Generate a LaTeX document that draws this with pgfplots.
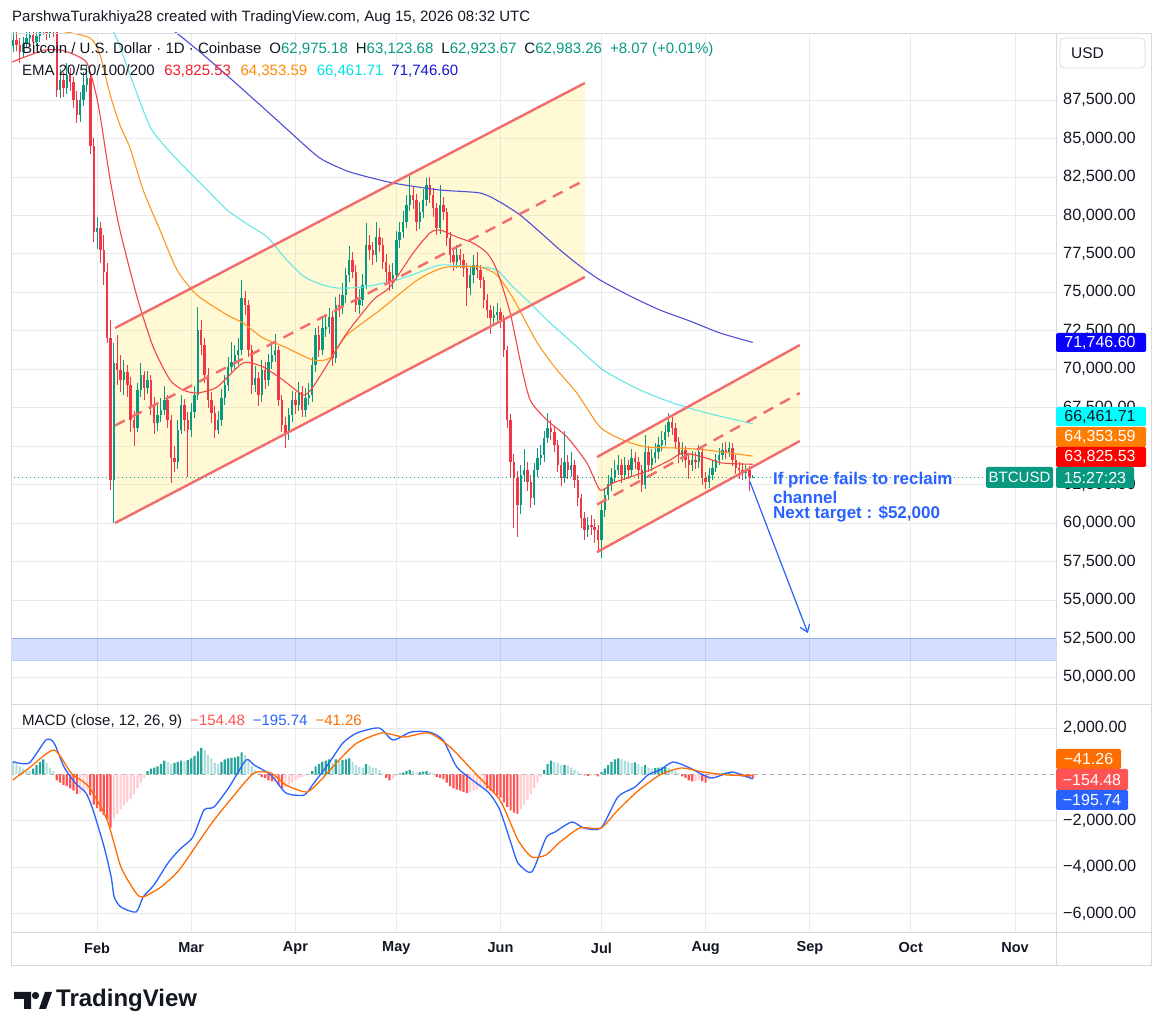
\documentclass[border=0pt]{standalone}
\usepackage{pgfplots}
\pgfplotsset{compat=1.18}
\usepackage{pgfplotstable}
\usepackage{fontspec}
\setmainfont{Liberation Sans}
\usetikzlibrary{arrows.meta}
\definecolor{upc}{RGB}{8,153,129}
\definecolor{dnc}{RGB}{242,54,69}
\definecolor{txt}{RGB}{19,23,34}
\definecolor{gridc}{RGB}{232,234,238}
\definecolor{framec}{RGB}{214,217,224}
\definecolor{emaA}{RGB}{242,70,70}
\definecolor{emaB}{RGB}{255,150,30}
\definecolor{emaC}{RGB}{100,232,228}
\definecolor{emaD}{RGB}{80,80,215}
\definecolor{chl}{RGB}{242,108,108}
\definecolor{chf}{RGB}{255,232,70}
\definecolor{tvblue}{RGB}{41,98,255}
\definecolor{tvorange}{RGB}{255,109,0}
\definecolor{hG}{RGB}{38,166,154}
\definecolor{hL}{RGB}{178,223,219}
\definecolor{hR}{RGB}{255,82,82}
\definecolor{hP}{RGB}{255,205,210}
\definecolor{bxblue}{RGB}{10,0,255}
\definecolor{bxcyan}{RGB}{0,255,255}
\definecolor{bxorange}{RGB}{255,125,0}
\definecolor{bxred}{RGB}{255,0,0}
\definecolor{lgred}{RGB}{240,30,40}
\definecolor{lgorange}{RGB}{255,140,0}
\definecolor{lgcyan}{RGB}{0,225,230}
\definecolor{lgblue}{RGB}{25,20,210}
\newcommand\fs[1]{\fontsize{#1}{#1}\selectfont}
\pgfplotsset{candle/.style={only marks, mark=*, mark size=0pt, mark options={draw=none, fill=none}, forget plot}}
% daily candles (day 0 = 1 Feb 2026): rising days
\pgfplotstableread{
d o h l c
-25 91000 92300 90600 91400
-22 90620 91600 90300 91140
-21 91140 92100 90900 91530
-20 91530 92600 91200 91725
-18 91270 92300 91000 91660
-17 91660 92700 91300 92050
-16 92050 92900 91700 92180
-14 91855 93000 91500 92310
-11 88150 89500 87600 88800
-9 88280 89900 87900 89125
-5 86525 88000 86100 87500
-4 87500 89300 87100 88475
-3 88475 89800 88000 88930
0 78920 79900 77800 79180
5 62800 71700 60000 70405
8 69300 70600 68300 69820
12 66180 69100 65900 68650
13 68650 70400 68200 69625
15 68780 69900 68400 69300
18 66505 67700 66000 67025
19 67025 68100 66600 67350
20 67350 68900 67000 68000
24 63970 66700 63500 66050
25 66050 68300 65800 67675
28 66050 67800 65600 67220
29 67220 68900 66800 68325
30 68325 74050 68000 72550
36 66050 67300 65800 66700
37 66700 68700 66300 68130
38 68130 69600 67700 68975
39 68975 70800 68600 70145
40 70145 71800 69800 70470
41 70470 71600 70000 70925
42 70925 72000 70300 71250
43 71250 75800 70900 74630
47 68975 70200 68500 69430
49 68325 70600 67900 69950
51 69300 71000 68900 70470
52 70470 71800 70000 70925
53 70925 72300 70500 71250
57 65855 67500 65400 67025
58 67025 68600 66600 68000
60 67675 69200 67300 68520
62 67350 68800 66900 68130
63 68130 69100 67700 68325
64 68325 70800 67900 70275
65 70275 72700 69800 72225
67 71250 73300 70900 72680
68 72680 73400 72100 72745
69 72745 74000 72300 73395
71 70730 74700 70400 74175
73 74045 75600 73600 74825
74 74825 76600 74300 76125
75 76125 78000 75700 77100
78 74175 75200 73600 74500
79 74500 76200 74100 75475
80 75475 79500 75200 78075
83 77425 79600 77000 78595
88 75670 76900 75200 76125
89 76125 79000 75800 78400
90 78400 79600 77900 78920
91 78920 80300 78500 79570
92 79570 81300 79200 80675
93 80675 82750 80300 81325
96 79570 80900 79100 80220
97 80220 81700 79800 81000
98 81000 82400 80600 81975
102 79180 82000 78800 80675
107 76970 78100 76600 77425
111 75280 76700 74800 76125
112 76125 77400 75600 76775
118 73330 74100 72900 73525
119 73525 74300 73000 73720
126 61175 63800 60600 63125
127 63125 64800 62700 63450
130 61630 63900 61200 63450
131 63450 64900 63000 64230
132 64230 65100 63800 64425
133 64425 66000 64000 65530
134 65530 67150 65200 66180
139 62930 66000 62600 63970
141 63450 64600 63000 63775
146 59550 60400 59100 59875
150 58900 61300 57730 60850
151 60850 62300 60400 61825
152 61825 63100 61500 62540
153 62540 63600 62100 62930
154 62930 64100 62600 63450
155 63450 64400 63100 63775
157 63125 64300 62800 63775
159 63450 64800 63000 64230
163 62475 65700 62200 64620
165 63775 64800 63400 64230
166 64230 65200 63900 64620
167 64620 65600 64200 65075
168 65075 66000 64700 65400
169 65400 66400 65000 65920
170 65920 67150 65600 66570
174 64425 65300 64000 64750
177 63775 64700 63400 64100
179 63970 65100 63600 64620
182 62670 63600 62300 63125
183 63125 64100 62800 63580
184 63580 64500 63300 64100
185 64100 64900 63800 64425
186 64425 65200 64100 64750
188 64620 65300 64300 64880
193 63255 63800 62900 63450
195 62975 63124 62924 62983
}\upcandles
% falling days
\pgfplotstableread{
d o h l c
-24 91400 91900 90700 91075
-23 91075 91500 89900 90620
-19 91725 92000 90800 91270
-15 92180 92600 91400 91855
-13 92310 92800 91600 92050
-12 92050 92500 87700 88150
-10 88800 89300 87700 88280
-8 89125 89600 88100 88670
-7 88670 89000 87000 87500
-6 87500 88100 86000 86525
-2 88930 89200 84000 84510
-1 84510 85000 78300 78920
1 79180 79600 76900 77750
2 77750 78700 75500 76320
3 76320 76900 71700 72030
4 72030 73200 62150 62800
6 70405 72200 69000 69950
7 69950 70900 68500 69300
9 69820 70300 68200 68975
10 68975 69500 65900 66700
11 66700 67300 65000 66180
14 69625 69900 68000 68780
16 69300 69600 67000 67675
17 67675 68200 65800 66505
21 68000 68300 66200 66700
22 66700 67000 62600 64230
23 64230 65000 63300 63970
26 67675 68100 66000 66700
27 66700 67200 63000 66050
31 72550 73200 70900 71575
32 71575 72000 69100 69625
33 69625 70100 67500 68000
34 68000 68500 66500 67155
35 67155 67600 65500 66050
44 74630 75100 73500 74175
45 74175 74500 70800 71250
46 71250 71600 68400 68975
48 69430 69800 67600 68325
50 69950 70500 68700 69300
54 71250 71500 67600 68000
55 68000 68300 65900 66375
56 66375 66900 64900 65855
59 68000 68500 67100 67675
61 68520 68900 66900 67350
66 72225 72800 70800 71250
70 73395 73800 70200 70730
72 74175 74900 73400 74045
76 77100 77600 75900 76320
77 76320 76800 73700 74175
81 78075 78700 77100 77750
82 77750 78300 76800 77425
84 78595 79200 77600 78075
85 78075 78500 76500 76970
86 76970 77500 75600 76320
87 76320 76800 75100 75670
94 81325 81900 80400 81000
95 81000 81400 79000 79570
99 81975 82500 80800 81325
100 81325 81800 79900 80480
101 80480 80800 78700 79180
103 80675 81200 79700 80220
104 80220 80500 78000 78530
105 78530 78900 76900 77425
106 77425 77900 76400 76970
108 77425 77800 76600 77100
109 77100 77500 76000 76580
110 76580 76900 74100 75280
113 76775 77600 75900 76450
114 76450 76800 75300 75800
115 75800 76000 74000 74500
116 74500 74900 73300 73850
117 73850 74200 72300 73330
120 73720 74000 72700 73200
121 73200 73500 70800 71250
122 71250 71500 66200 66700
123 66700 67100 63000 63970
124 63970 64500 59700 62930
125 62930 63400 59100 61175
128 63450 64000 62100 62670
129 62670 63100 61000 61630
135 66180 66700 65400 65920
136 65920 66300 64600 65075
137 65075 65400 63300 63775
138 63775 64200 62400 62930
140 63970 64400 62900 63450
142 63775 64100 62300 62800
143 62800 63100 61100 61630
144 61630 61900 59700 60330
145 60330 60700 58900 59550
147 59875 60500 59200 59745
148 59745 60300 58700 59550
149 59550 59900 58050 58900
156 63775 64200 62600 63125
158 63775 64100 62900 63450
160 64230 64600 63500 63970
161 63970 64300 62900 63450
162 63450 63800 62000 62475
164 64620 65000 63300 63775
171 66570 66900 65700 66180
172 66180 66500 64800 65270
173 65270 65600 63900 64425
175 64750 65000 63600 64100
176 64100 64500 62900 63775
178 64100 64600 63500 63970
180 64620 64900 62500 62930
181 62930 63300 62200 62670
187 64750 65300 64200 64620
189 64880 65200 63700 64100
190 64100 64400 63200 63580
191 63580 64000 62900 63450
192 63450 63900 62800 63255
194 63450 63700 62100 62975
}\dncandles
\begin{document}
\begin{tikzpicture}
\fill[white] (0pt,0pt) rectangle (1162pt,1036pt);
\path[use as bounding box] (0pt,0pt) rectangle (1162pt,1036pt);
% ---------------- price pane ----------------
\begin{axis}[
  at={(12pt,331pt)}, anchor=south west, scale only axis,
  width=1044pt, height=672pt,
  xmin=-25.3, xmax=285.2, ymin=48180, ymax=91854,
  axis line style={draw=none},
  xtick={0,28,59,89,120,150,181,212,242,273}, xticklabels={},
  ytick={50000,52500,55000,57500,60000,62500,65000,67500,70000,72500,75000,77500,80000,82500,85000,87500},
  scaled y ticks=false, yticklabel pos=right,
  yticklabel={\pgfmathprintnumber[fixed,fixed zerofill,precision=2,1000 sep={,},assume math mode=true]{\tick}},
  yticklabel style={font=\fs{16.3}, text=txt, anchor=west, inner sep=0pt, xshift=7pt},
  major tick length=0pt,
  grid=major, major grid style={line width=0.8pt, draw=gridc},
  clip=true,
]
% target zone
\addplot[fill=tvblue, fill opacity=0.2, draw=tvblue, draw opacity=0.3, line width=0.8pt] coordinates {(-26,51100) (286,51100) (286,52530) (-26,52530)} --cycle;
% channels (fill)
\addplot[fill=chf, fill opacity=0.22, draw=none] coordinates {(5.35,60005) (145.1,75995) (145.1,88605) (5.35,72680)} --cycle;
\addplot[fill=chf, fill opacity=0.22, draw=none] coordinates {(148.7,58120) (209.0,65335) (209.0,71575) (148.7,64295)} --cycle;
% candles: wicks
\addplot[candle, error bars/.cd, y dir=both, y explicit, error mark=none, error bar style={line width=1pt, color=upc}]
  table[x=d, y expr={(\thisrow{h}+\thisrow{l})/2}, y error expr={(\thisrow{h}-\thisrow{l})/2}] {\upcandles};
\addplot[candle, error bars/.cd, y dir=both, y explicit, error mark=none, error bar style={line width=1pt, color=dnc}]
  table[x=d, y expr={(\thisrow{h}+\thisrow{l})/2}, y error expr={(\thisrow{h}-\thisrow{l})/2}] {\dncandles};
% candles: bodies
\addplot[candle, error bars/.cd, y dir=both, y explicit, error mark=none, error bar style={line width=2.4pt, color=upc}]
  table[x=d, y expr={(\thisrow{o}+\thisrow{c})/2}, y error expr={max(abs(\thisrow{c}-\thisrow{o})/2,30)}] {\upcandles};
\addplot[candle, error bars/.cd, y dir=both, y explicit, error mark=none, error bar style={line width=2.4pt, color=dnc}]
  table[x=d, y expr={(\thisrow{o}+\thisrow{c})/2}, y error expr={max(abs(\thisrow{c}-\thisrow{o})/2,30)}] {\dncandles};
% EMA 200
\addplot[emaD, line width=1.1pt, smooth, tension=0.4] coordinates {(10,94000) (21.7,92180) (30.6,90620) (39.5,88930) (48.5,87175) (57.4,85420) (63.3,84250) (67.2,83600) (75.2,82820) (88.0,82105) (102.0,81650) (113.9,81455) (119.8,80870) (125.8,80025) (131.7,78920) (137.7,77750) (143.6,76710) (149.6,75800) (158.5,74760) (167.4,73850) (176.3,73135) (185.3,72355) (195,71746.6)};
% EMA 100
\addplot[emaC, line width=1.1pt, smooth, tension=0.4] coordinates {(-10,96000) (4.5,92050) (9.8,89125) (15.8,85745) (21.7,84120) (27.7,82755) (33.6,81455) (38.7,80350) (44.6,79440) (50.6,78595) (55.9,77230) (61.3,76060) (66.3,75540) (71.4,75280) (79.1,75345) (89.2,75800) (96.0,76320) (102.0,76775) (109.4,76710) (113.9,76645) (118.9,76450) (123.7,75345) (128.8,74305) (133.8,73200) (141.5,71705) (150.5,69950) (161.5,68650) (171.3,67805) (181.4,67155) (195,66461.71)};
% EMA 50
\addplot[emaB, line width=1.1pt, smooth, tension=0.4] coordinates {(-25.3,92375) (-11.0,91985) (-2.1,91530) (0.9,90425) (3.9,87825) (6.8,85875) (9.8,84380) (13.7,81650) (18.7,79050) (23.8,76450) (29.7,74825) (38.7,73525) (43.4,73005) (49.4,72030) (55.9,71445) (64.2,70600) (69.3,70730) (74.3,72225) (84.2,73850) (94.0,75605) (99.0,76255) (104.1,76645) (113.9,76645) (118.9,76125) (123.7,74630) (128.8,72550) (131.7,71445) (136.8,69950) (142.7,68455) (149.6,66245) (156.4,65400) (163.5,64945) (172.5,64880) (181.4,64750) (195,64353.59)};
% EMA 20
\addplot[emaA, line width=1.1pt, smooth, tension=0.4] coordinates {(-25.3,89970) (-19.9,90425) (-15.5,90750) (-11.0,90750) (-6.5,90425) (-3.0,89905) (-0.6,88150) (0.9,86500) (3.9,82300) (6.8,79050) (11.9,74695) (16.7,71445) (21.7,69300) (25.6,68650) (29.7,68455) (35.7,68845) (43.4,70405) (49.4,70145) (55.3,69300) (61.3,68325) (64.2,68845) (69.3,70600) (74.3,72355) (82.1,74500) (87.1,75345) (94.0,77555) (99.0,78855) (102.0,79050) (107.0,78595) (111.8,78205) (116.0,77555) (118.9,76450) (122.8,73720) (125.8,70600) (128.8,68000) (133.8,66700) (139.8,65595) (145.7,63905) (149.6,62150) (153.4,62605) (158.5,62995) (164.4,63450) (170.4,64100) (174.2,64555) (180.2,64295) (186.1,63905) (195,63825.53)};
% channel lines
\addplot[chl, line width=2.4pt] coordinates {(5.35,60005) (145.1,75995)};
\addplot[chl, line width=2.4pt] coordinates {(5.35,72680) (145.1,88605)};
\addplot[chl, line width=2.4pt, dash pattern=on 11pt off 8pt] coordinates {(5.35,66342) (145.1,82300)};
\addplot[chl, line width=2.4pt] coordinates {(148.7,58120) (209.0,65335)};
\addplot[chl, line width=2.4pt] coordinates {(148.7,64295) (209.0,71575)};
\addplot[chl, line width=2.4pt, dash pattern=on 11pt off 8pt] coordinates {(148.7,61207) (209.0,68455)};
% last price line
\addplot[upc, line width=1pt, dash pattern=on 1pt off 3pt] coordinates {(-26,62983) (264,62983)};
% arrow
\addplot[tvblue, line width=1.2pt, -{Straight Barb[length=7pt,width=10pt]}] coordinates {(194.2,62670) (211.4,52855)};
\node[anchor=west, inner sep=0pt, text=tvblue, font=\bfseries\fs{17}] at (axis cs:201,62820) {If price fails to reclaim};
\node[anchor=west, inner sep=0pt, text=tvblue, font=\bfseries\fs{17}] at (axis cs:201,61700) {channel};
\node[anchor=west, inner sep=0pt, text=tvblue, font=\bfseries\fs{17}] at (axis cs:201,60590) {Next target : \$52,000};
\end{axis}
% ---------------- MACD pane ----------------
\begin{axis}[
  at={(12pt,104pt)}, anchor=south west, scale only axis,
  width=1044pt, height=227pt,
  xmin=-25.3, xmax=285.2, ymin=-6803, ymax=3002,
  axis line style={draw=none},
  xtick={0,28,59,89,120,150,181,212,242,273},
  xticklabels={Feb,Mar,Apr,May,Jun,Jul,Aug,Sep,Oct,Nov},
  xticklabel style={font=\bfseries\fs{14.5}, text=txt, anchor=center, yshift=-16pt},
  ytick={-6000,-4000,-2000,2000},
  yticklabels={{−6,000.00},{−4,000.00},{−2,000.00},{2,000.00}},
  yticklabel pos=right,
  yticklabel style={font=\fs{16.3}, text=txt, anchor=west, inner sep=0pt, xshift=7pt},
  major tick length=0pt,
  grid=major, major grid style={line width=0.8pt, draw=gridc},
  clip=true,
]
\addplot[gray!70, line width=0.8pt, dash pattern=on 4pt off 4pt] coordinates {(-26,0) (286,0)};
% histogram: positive and rising
\addplot[ybar, bar width=2.2pt, bar shift=0pt, fill=hG, draw=none, forget plot] coordinates {(-19,250) (-18,400) (-17,550) (-16,650) (15,150) (16,250) (17,300) (18,350) (19,450) (20,600) (23,500) (24,550) (25,600) (27,620) (28,700) (29,800) (30,1000) (31,1150) (37,550) (38,650) (39,700) (40,720) (41,740) (42,780) (43,950) (64,150) (65,350) (66,450) (67,550) (68,600) (69,650) (71,650) (73,620) (74,650) (75,700) (80,450) (90,50) (91,80) (92,150) (93,200) (96,100) (97,120) (98,150) (133,200) (134,450) (135,600) (139,420) (150,100) (151,250) (152,400) (153,550) (154,650) (155,700) (160,520) (163,400) (166,280) (167,300) (168,310) (169,320) (185,30) (186,60) (187,80) (188,90)};
% histogram: positive and falling
\addplot[ybar, bar width=2.2pt, bar shift=0pt, fill=hL, draw=none, forget plot] coordinates {(-25,550) (-24,450) (-23,350) (-22,250) (-21,180) (-20,150) (-15,500) (-14,300) (-13,150) (21,550) (22,450) (26,580) (32,1050) (33,850) (34,700) (35,500) (36,450) (44,850) (45,600) (46,350) (47,200) (48,50) (70,500) (72,600) (76,550) (77,400) (78,320) (79,300) (81,380) (82,300) (83,280) (84,200) (85,50) (94,150) (95,80) (99,100) (100,50) (136,550) (137,500) (138,400) (140,380) (141,300) (142,200) (143,100) (144,30) (156,650) (157,600) (158,550) (159,500) (161,450) (162,350) (164,300) (165,250) (170,300) (171,220) (172,150) (173,50) (189,40)};
% histogram: negative and falling
\addplot[ybar, bar width=2.2pt, bar shift=0pt, fill=hR, draw=none, forget plot] coordinates {(-12,-250) (-11,-350) (-10,-450) (-9,-500) (-8,-600) (-7,-700) (-6,-850) (-2,-900) (-1,-1300) (0,-1450) (1,-1600) (2,-1750) (3,-1950) (4,-2300) (49,-100) (50,-150) (51,-250) (52,-300) (54,-450) (55,-600) (86,-150) (87,-250) (101,-100) (102,-150) (103,-200) (104,-350) (105,-500) (106,-600) (107,-650) (108,-700) (109,-750) (110,-800) (116,-600) (117,-700) (118,-800) (119,-900) (120,-1000) (121,-1200) (122,-1400) (123,-1550) (124,-1650) (125,-1700) (145,-40) (146,-60) (149,-80) (174,-80) (175,-150) (176,-250) (177,-300) (180,-300) (181,-350) (190,-30) (191,-70) (192,-100) (193,-120) (194,-140) (195,-154.48)};
% histogram: negative and rising
\addplot[ybar, bar width=2.2pt, bar shift=0pt, fill=hP, draw=none, forget plot] coordinates {(-5,-800) (-4,-700) (-3,-650) (5,-1900) (6,-1700) (7,-1500) (8,-1350) (9,-1200) (10,-1050) (11,-850) (12,-600) (13,-350) (14,-150) (53,-300) (56,-550) (57,-450) (58,-350) (59,-250) (60,-150) (61,-100) (62,-50) (63,-30) (88,-200) (89,-50) (111,-750) (112,-700) (113,-650) (114,-550) (115,-500) (126,-1500) (127,-1300) (128,-1100) (129,-850) (130,-600) (131,-350) (132,-100) (147,-50) (148,-40) (178,-280) (179,-220) (182,-250) (183,-150) (184,-60)};
% MACD line
\addplot[tvblue, line width=1.3pt, smooth, tension=0.4] coordinates {(-25.1,553) (-20.2,497) (-15.2,1490) (-12.8,1361) (-9.8,324) (-6.5,-367) (-3.3,-799) (-1.2,-1534) (2.1,-3132) (4.2,-4428) (5.1,-5292) (7.1,-5724) (11.6,-5940) (13.7,-5292) (16.9,-4774) (21.1,-3823) (24.4,-3262) (28.5,-2700) (31.8,-1534) (34.8,-1404) (39.3,-540) (44.3,626) (46.7,410) (51.7,-22) (56.2,-799) (61.6,-886) (64.5,-367) (69.0,497) (73.1,1361) (77.3,1793) (83.9,2009) (88.0,1490) (93.4,1836) (98.7,1836) (102.9,1490) (107.0,324) (112.4,-324) (116.6,-799) (119.8,-1534) (123.1,-2959) (125.2,-3823) (129.3,-4212) (133.5,-2743) (136.2,-2484) (141.2,-2052) (144.8,-2311) (149.9,-2311) (154.9,-972) (160.0,-540) (163.8,-22) (167.4,194) (171.3,540) (176.3,281) (182.6,-151) (188.8,108) (195,-195.74)};
% signal line
\addplot[tvorange, line width=1.3pt, smooth, tension=0.4] coordinates {(-25.1,-238) (-20.2,281) (-12.8,1058) (-7.7,65) (-2.4,-540) (3.0,-1966) (7.1,-3996) (11.6,-5119) (13.7,-5292) (19.0,-4860) (24.4,-4126) (30.6,-2830) (34.8,-1966) (41.3,-799) (46.7,65) (51.7,65) (56.2,-454) (62.4,-756) (66.6,-238) (72.0,626) (77.3,1361) (84.7,1793) (91.3,1620) (98.7,1793) (105.0,1188) (112.4,65) (119.8,-1102) (125.2,-2830) (129.3,-3564) (133.5,-3478) (137.7,-2916) (143.6,-2311) (149.9,-2311) (154.9,-1534) (161.2,-670) (167.4,-22) (173.7,281) (180.2,108) (187.6,-22) (195,-41.26)};
\end{axis}
% ---------------- frame ----------------
\draw[framec, line width=0.8pt] (11pt,71pt) rectangle (1151pt,1003pt);
\draw[framec, line width=0.8pt] (1056pt,71pt) -- (1056pt,1003pt);
\draw[framec, line width=1pt] (11pt,331pt) -- (1151pt,331pt);
\draw[framec, line width=0.8pt] (11pt,104pt) -- (1151pt,104pt);
% ---------------- header and legends ----------------
\node[anchor=west, inner sep=0pt, text=txt, font=\fs{15}] at (12pt,1018pt) {ParshwaTurakhiya28 created with TradingView.com, Aug 15, 2026 08:32 UTC};
\node[anchor=west, inner sep=0pt, text=txt, font=\fs{15}] at (22pt,986pt) {Bitcoin / U.S. Dollar · 1D · Coinbase\hspace{8pt}O\textcolor{upc}{62,975.18}\hspace{8pt}H\textcolor{upc}{63,123.68}\hspace{8pt}L\textcolor{upc}{62,923.67}\hspace{8pt}C\textcolor{upc}{62,983.26}\hspace{8pt}\textcolor{upc}{+8.07 (+0.01\%)}};
\node[anchor=west, inner sep=0pt, text=txt, font=\fs{15}] at (22pt,965pt) {EMA 20/50/100/200\hspace{9.5pt}\textcolor{lgred}{63,825.53}\hspace{9.5pt}\textcolor{lgorange}{64,353.59}\hspace{9.5pt}\textcolor{lgcyan}{66,461.71}\hspace{8pt}\textcolor{lgblue}{71,746.60}};
\node[anchor=west, inner sep=0pt, text=txt, font=\fs{15}] at (22pt,314pt) {MACD (close, 12, 26, 9)\hspace{8pt}\textcolor{hR}{−154.48}\hspace{8pt}\textcolor{tvblue}{−195.74}\hspace{8pt}\textcolor{tvorange}{−41.26}};
% USD box
\draw[framec, fill=white, rounded corners=4pt, line width=0.8pt] (1060pt,968pt) rectangle (1145pt,998pt);
\node[anchor=west, inner sep=0pt, text=txt, font=\fs{15.5}] at (1071pt,983pt) {USD};
% price scale boxes
\fill[bxblue, rounded corners=1.5pt] (1056pt,684pt) rectangle (1146pt,703pt);
\node[inner sep=0pt, text=white, font=\fs{16}] at (1100pt,693.5pt) {71,746.60};
\fill[bxcyan, rounded corners=1.5pt] (1056pt,610pt) rectangle (1146pt,629pt);
\node[inner sep=0pt, text=txt, font=\fs{16}] at (1100pt,619.5pt) {66,461.71};
\fill[bxorange, rounded corners=1.5pt] (1056pt,589pt) rectangle (1146pt,609pt);
\node[inner sep=0pt, text=white, font=\fs{16}] at (1100pt,599pt) {64,353.59};
\fill[bxred, rounded corners=1.5pt] (1056pt,569pt) rectangle (1146pt,589pt);
\node[inner sep=0pt, text=white, font=\fs{16}] at (1100pt,579pt) {63,825.53};
\fill[upc, rounded corners=1.5pt] (986pt,548pt) rectangle (1053pt,569pt);
\node[inner sep=0pt, text=white, font=\fs{15}] at (1019.5pt,558.5pt) {BTCUSD};
\fill[upc, rounded corners=1.5pt] (1056pt,548pt) rectangle (1134pt,569pt);
\node[inner sep=0pt, text=white, font=\fs{16}] at (1095pt,558.5pt) {15:27:23};
% MACD scale boxes
\fill[tvorange, rounded corners=1.5pt] (1056pt,267pt) rectangle (1121pt,287pt);
\node[inner sep=0pt, text=white, font=\fs{16}] at (1088.5pt,277pt) {−41.26};
\fill[hR, rounded corners=1.5pt] (1056pt,246pt) rectangle (1128pt,267pt);
\node[inner sep=0pt, text=white, font=\fs{16}] at (1092pt,256.5pt) {−154.48};
\fill[tvblue, rounded corners=1.5pt] (1056pt,226pt) rectangle (1128pt,246pt);
\node[inner sep=0pt, text=white, font=\fs{16}] at (1092pt,236pt) {−195.74};
% TradingView logo
\fill[txt] (14pt,44pt) -- (31pt,44pt) -- (31pt,27pt) -- (24pt,27pt) -- (24pt,37pt) -- (14pt,37pt) -- cycle;
\fill[txt] (35.5pt,40.5pt) circle (3.6pt);
\fill[txt] (39pt,27pt) -- (45pt,44pt) -- (52pt,44pt) -- (46pt,27pt) -- cycle;
\node[anchor=west, inner sep=0pt, text=txt, font=\bfseries\fs{24}] at (56pt,36pt) {TradingView};
\end{tikzpicture}
\end{document}
